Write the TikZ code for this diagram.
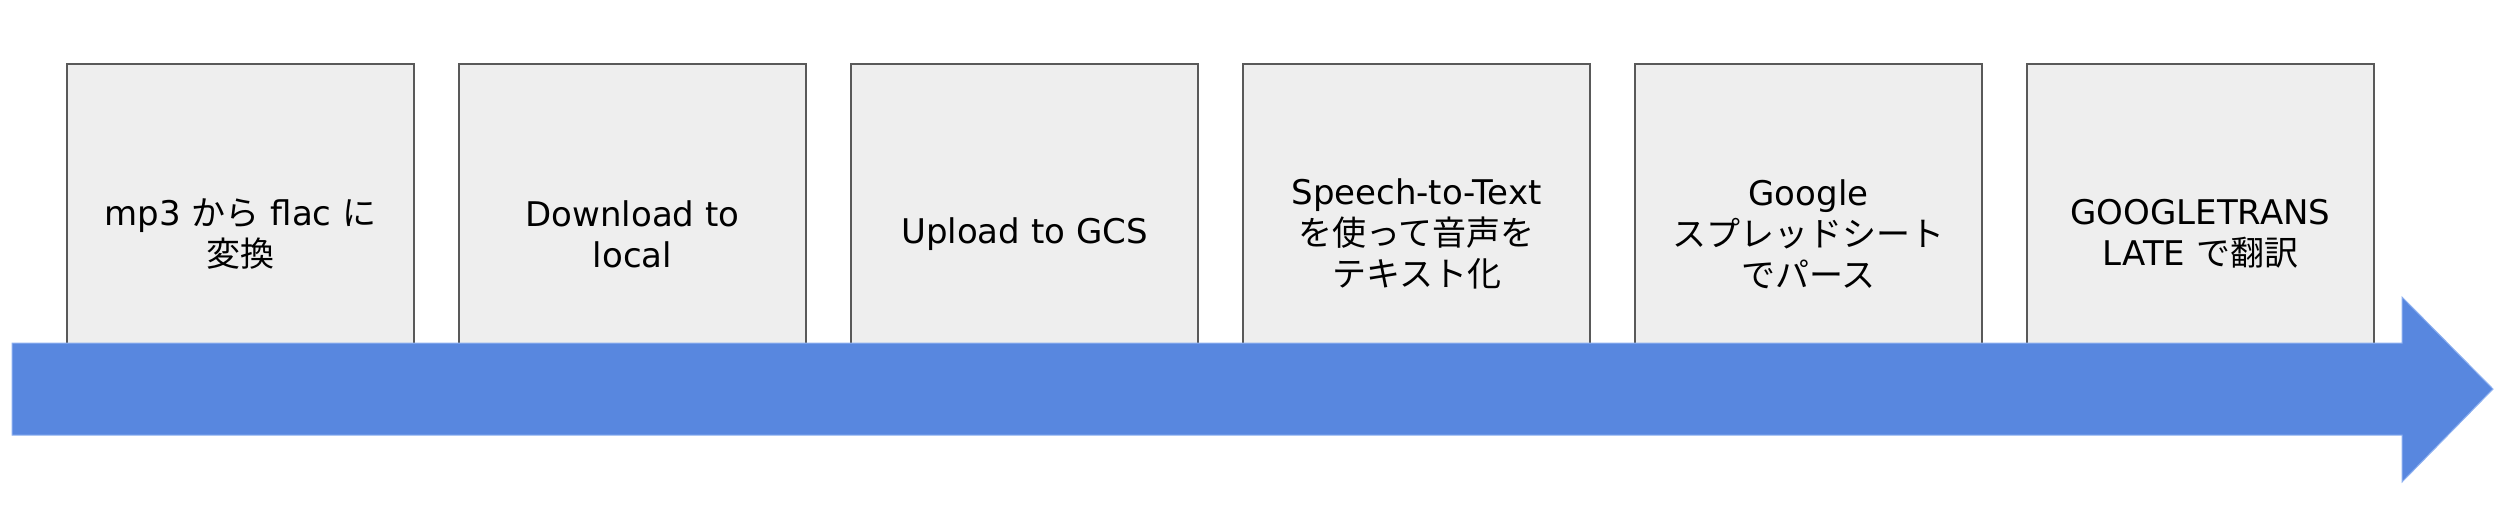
\documentclass[tikz,border=0pt]{standalone}
\usepackage{fontspec}
\setmainfont{DejaVu Sans}
\newfontfamily\jpfont{Noto Sans CJK JP}
\definecolor{boxfill}{HTML}{EEEEEE}
\definecolor{boxline}{HTML}{595959}
\definecolor{flowblue}{HTML}{5887DF}
\definecolor{flowedge}{HTML}{8DB0F0}
\tikzset{
	stage/.style={draw=boxline, fill=boxfill, line width=1pt, minimum width=173.5pt, minimum height=170pt, inner sep=0pt, align=center, font=\fontsize{17pt}{20.5pt}\selectfont}
}
\begin{document}
\begin{tikzpicture}[x=0.5pt,y=-0.5pt]

	\useasboundingbox (0,0) rectangle (2504,526);

	\node[stage] (convert) at (240.5,234) {mp3 {\jpfont から} flac {\jpfont に}\\{\jpfont 変換}};
	\node[stage] (download) at (632.5,234) {Download to\\local};
	\node[stage] (upload) at (1024.5,234) {Upload to GCS};
	\node[stage] (speech) at (1416.5,234) {Speech-to-Text\\{\jpfont を使って音声を}\\{\jpfont テキスト化}};
	\node[stage] (parse) at (1808.5,234) {Google\\{\jpfont スプレッドシート}\\{\jpfont でパース}};
	\node[stage] (translate) at (2200.5,234) {GOOGLETRANS\\LATE {\jpfont で翻訳}};

	\filldraw[fill=flowblue, draw=flowedge, line width=0.5pt]
		(12,343) -- (2402,343) -- (2402,297) -- (2493,389)
		-- (2402,482) -- (2402,435) -- (12,435) -- cycle;
\end{tikzpicture}
\end{document}
